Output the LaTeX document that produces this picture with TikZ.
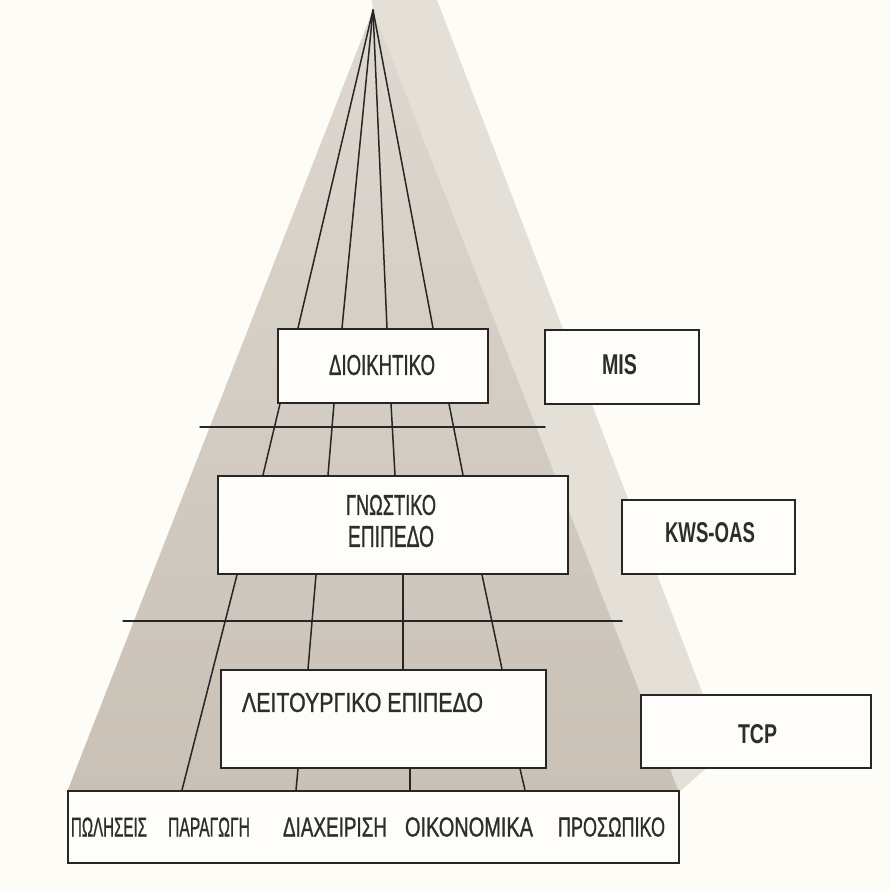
\documentclass[tikz,border=0pt]{standalone}
\usepackage{fontspec}
\usepackage{graphicx}
\setmainfont{Liberation Sans}
\newfontfamily\levelfont[FakeBold=1.2]{Liberation Sans}
\definecolor{paper}{RGB}{253,252,246}
\definecolor{boxfill}{RGB}{254,253,249}
\definecolor{ink}{RGB}{38,38,38}
\definecolor{txt}{RGB}{45,45,45}
\definecolor{sidelight}{RGB}{228,224,216}
\definecolor{fronttop}{RGB}{222,216,208}
\definecolor{frontbot}{RGB}{201,193,182}
% scale a label to a given width and cap height (in pt)
\newcommand{\fitlbl}[3]{\resizebox{#1pt}{#2pt}{#3}}
\begin{document}
\begin{tikzpicture}[x=1pt,y=-1pt,
  box/.style={draw=ink, line width=1.8pt, fill=boxfill, inner sep=0pt, anchor=north west},
  conn/.style={draw=ink, line width=1.5pt, line cap=round},
  lbl/.style={inner sep=0pt, text=txt, font=\levelfont},
  acr/.style={inner sep=0pt, text=txt, font=\bfseries}]
\fill[paper] (0,0) rectangle (890,890);
\useasboundingbox (0,0) rectangle (890,890);

% pyramid faces
\coordinate (apex) at (373,10);
\fill[sidelight] (372,0) -- (437,0) -- (725,752) -- (679,792) -- (apex) -- cycle;
\shade[top color=fronttop, bottom color=frontbot] (apex) -- (67,792) -- (679,792) -- cycle;

% level boxes
\node[box, minimum width=210pt, minimum height=74pt] (dio) at (277,328) {};
\node[box, minimum width=154pt, minimum height=74pt] (mis) at (544,329) {};
\node[box, minimum width=350pt, minimum height=98pt] (gno) at (217,475) {};
\node[box, minimum width=173pt, minimum height=74pt] (kws) at (621,499) {};
\node[box, minimum width=325pt, minimum height=98pt] (lei) at (220,669) {};
\node[box, minimum width=230pt, minimum height=73pt] (tcp) at (640,694) {};
\node[box, minimum width=611pt, minimum height=72pt] (base) at (67,790) {};

% rays from the apex
\foreach \x in {298,342,387,433}
  \draw[conn] (apex) -- (\x,0 |- dio.north);

% links between levels
\draw[conn] (280,0 |- dio.south) -- (263,0 |- gno.north);
\draw[conn] (334,0 |- dio.south) -- (328,0 |- gno.north);
\draw[conn] (391,0 |- dio.south) -- (395,0 |- gno.north);
\draw[conn] (449,0 |- dio.south) -- (463,0 |- gno.north);

\draw[conn] (237,0 |- gno.south) -- (182,0 |- base.north);
\draw[conn] (316,0 |- gno.south) -- (308,0 |- lei.north);
\draw[conn] (403,0 |- gno.south) -- (403,0 |- lei.north);
\draw[conn] (482,0 |- gno.south) -- (502,0 |- lei.north);

\draw[conn] (298,0 |- lei.south) -- (296,0 |- base.north);
\draw[conn] (410,0 |- lei.south) -- (410,0 |- base.north);
\draw[conn] (520,0 |- lei.south) -- (525,0 |- base.north);

% level separators
\coordinate (sepAl) at (200,427);
\coordinate (sepAr) at (545,427);
\coordinate (sepBl) at (123,621);
\coordinate (sepBr) at (622,621);
\draw[conn] (sepAl) -- (sepAr);
\draw[conn] (sepBl) -- (sepBr);

% labels
\node[lbl] (tdio) at (382,365) {\fitlbl{106}{20}{ΔΙΟΙΚΗΤΙΚΟ}};
\node[lbl] (tgnoA) at (391,505) {\fitlbl{90}{20}{ΓΝΩΣΤΙΚΟ}};
\node[lbl] (tgnoB) at (391,536.5) {\fitlbl{86}{21}{ΕΠΙΠΕΔΟ}};
\node[lbl] (tlei) at (362.5,702.5) {\fitlbl{241}{19}{ΛΕΙΤΟΥΡΓΙΚΟ ΕΠΙΠΕΔΟ}};
\node[acr] (tmis) at (619.5,365) {\fitlbl{35}{20}{MIS}};
\node[acr] (tkws) at (710,533) {\fitlbl{90}{20}{KWS-OAS}};
\node[acr] (ttcp) at (757.5,734.5) {\fitlbl{39}{19}{TCP}};

\node[lbl] (tsal) at (109,827) {\fitlbl{76}{19}{ΠΩΛΗΣΕΙΣ}};
\node[lbl] (tpro) at (209,827) {\fitlbl{82}{19}{ΠΑΡΑΓΩΓΗ}};
\node[lbl] (tman) at (335,827) {\fitlbl{104}{19}{ΔΙΑΧΕΙΡΙΣΗ}};
\node[lbl] (tfin) at (469,827) {\fitlbl{128}{19}{ΟΙΚΟΝΟΜΙΚΑ}};
\node[lbl] (tper) at (611.5,827) {\fitlbl{107}{19}{ΠΡΟΣΩΠΙΚΟ}};
\end{tikzpicture}
\end{document}
